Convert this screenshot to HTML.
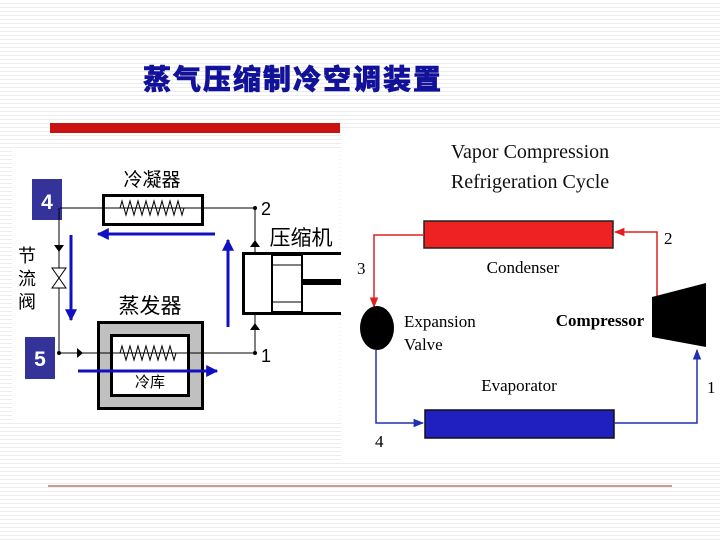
<!DOCTYPE html>
<html><head><meta charset="utf-8"><style>
html,body{margin:0;padding:0}
body{width:720px;height:540px;overflow:hidden;background:#fff repeating-linear-gradient(to bottom,#fff 0,#fff 3px,#ececec 3px,#ececec 4px);}
svg{position:absolute;left:0;top:0}
</style></head><body>
<svg width="720" height="540" viewBox="0 0 720 540">
<defs>
<marker id="bl" viewBox="0 0 10 10" refX="9" refY="5" markerWidth="4" markerHeight="4" orient="auto"><path d="M0,0L10,5L0,10z" fill="#1010c0"/></marker>
<marker id="rd" viewBox="0 0 10 10" refX="9" refY="5" markerWidth="7" markerHeight="7" orient="auto"><path d="M0,1L10,5L0,9z" fill="#e02020"/></marker>
<marker id="db" viewBox="0 0 10 10" refX="9" refY="5" markerWidth="7" markerHeight="7" orient="auto"><path d="M0,1L10,5L0,9z" fill="#2030b0"/></marker>
</defs>
<text x="293" y="89" text-anchor="middle" font-family="'Noto Sans CJK SC',sans-serif" font-weight="900" font-size="28" letter-spacing="2" fill="#111199" stroke="#111199" stroke-width="0.6">蒸气压缩制冷空调装置</text>
<rect x="50" y="123" width="290" height="10" fill="#cc1111"/>
<line x1="48" y1="486" x2="672" y2="486" stroke="#993333" stroke-width="1"/>
<!-- left image -->
<rect x="12" y="148" width="328" height="272" fill="#fff"/>
<rect x="32" y="179" width="30" height="41" fill="#333399"/>
<text x="47" y="209" text-anchor="middle" font-family="'Liberation Sans',sans-serif" font-weight="bold" font-size="21" fill="#fff">4</text>
<rect x="25" y="337" width="30" height="42" fill="#333399"/>
<text x="40" y="366" text-anchor="middle" font-family="'Liberation Sans',sans-serif" font-weight="bold" font-size="21" fill="#fff">5</text>
<g stroke="#000" fill="none" stroke-width="1">
<line x1="60" y1="208" x2="255" y2="208"/>
<line x1="59" y1="208" x2="59" y2="353"/>
<line x1="59" y1="353" x2="255" y2="353"/>
<line x1="255" y1="208" x2="255" y2="252"/>
<line x1="255" y1="314" x2="255" y2="353"/>
</g>
<rect x="103.5" y="195.5" width="99" height="29" fill="#fff" stroke="#000" stroke-width="3"/>
<line x1="105" y1="208" x2="201" y2="208" stroke="#000"/>
<path d="M120,208 l2,-7 4,14 4,-14 4,14 4,-14 4,14 4,-14 4,14 4,-14 4,14 4,-14 4,14 4,-14 4,14 4,-14 4,14 2,-7" stroke="#000" fill="none"/>
<text x="152" y="186" text-anchor="middle" font-family="'Noto Sans CJK SC',sans-serif" font-size="19">冷凝器</text>
<text x="261" y="215" font-family="'Liberation Sans',sans-serif" font-size="18">2</text>
<text x="261" y="362" font-family="'Liberation Sans',sans-serif" font-size="18">1</text>
<circle cx="255" cy="208" r="2"/><circle cx="255" cy="353" r="2"/><circle cx="59" cy="353" r="2"/>
<path d="M250,247 L260,247 L255,240z"/><path d="M250,330 L260,330 L255,323z"/>
<path d="M54,245 L64,245 L59,252z"/><path d="M77,348 L77,358 L83,353z"/>
<path d="M52,268 L66,268 L52,288 L66,288z" fill="#fff" stroke="#000"/>
<text x="27" y="262" text-anchor="middle" font-family="'Noto Sans CJK SC',sans-serif" font-size="18">节</text>
<text x="27" y="285" text-anchor="middle" font-family="'Noto Sans CJK SC',sans-serif" font-size="18">流</text>
<text x="27" y="308" text-anchor="middle" font-family="'Noto Sans CJK SC',sans-serif" font-size="18">阀</text>
<text x="301" y="245" text-anchor="middle" font-family="'Noto Sans CJK SC',sans-serif" font-size="21">压缩机</text>
<rect x="243.5" y="253.5" width="100" height="60" fill="#fff" stroke="#000" stroke-width="3"/>
<rect x="272" y="255" width="30" height="57" fill="#fff" stroke="#000" stroke-width="2"/>
<line x1="273" y1="265" x2="301" y2="265" stroke="#000"/><line x1="273" y1="302" x2="301" y2="302" stroke="#000"/>
<rect x="302" y="279" width="40" height="6" fill="#000"/>
<text x="150" y="313" text-anchor="middle" font-family="'Noto Sans CJK SC',sans-serif" font-size="21">蒸发器</text>
<rect x="98.5" y="322.5" width="104" height="86" fill="#c0c0c0" stroke="#000" stroke-width="3"/>
<rect x="111.5" y="335.5" width="77" height="60" fill="#fff" stroke="#000" stroke-width="3"/>
<line x1="82" y1="353" x2="255" y2="353" stroke="#000"/>
<path d="M120,353 l2,-7 4,14 4,-14 4,14 4,-14 4,14 4,-14 4,14 4,-14 4,14 4,-14 4,14 4,-14 4,14 2,-7" stroke="#000" fill="none"/>
<text x="150" y="387" text-anchor="middle" font-family="'Noto Sans CJK SC',sans-serif" font-size="15">冷库</text>
<g stroke="#1010c0" stroke-width="3" fill="none">
<line x1="215" y1="234" x2="98" y2="234" marker-end="url(#bl)"/>
<line x1="71" y1="235" x2="71" y2="320" marker-end="url(#bl)"/>
<line x1="228" y1="327" x2="228" y2="240" marker-end="url(#bl)"/>
<line x1="78" y1="371" x2="217" y2="371" marker-end="url(#bl)"/>
</g>
<!-- right image -->
<rect x="341" y="128" width="379" height="335" fill="#fff"/>
<text x="530" y="158" text-anchor="middle" font-family="'Liberation Serif',serif" font-size="20" fill="#111">Vapor Compression</text>
<text x="530" y="188" text-anchor="middle" font-family="'Liberation Serif',serif" font-size="20" fill="#111">Refrigeration Cycle</text>
<rect x="424" y="221" width="189" height="27" fill="#ee2222" stroke="#222" stroke-width="1.5"/>
<g stroke="#e02020" stroke-width="1.5" fill="none">
<polyline points="424,235 374,235 374,307" marker-end="url(#rd)"/>
<polyline points="657,298 657,232 615,232" marker-end="url(#rd)"/>
</g>
<text x="357" y="274" font-family="'Liberation Serif',serif" font-size="17">3</text>
<text x="664" y="244" font-family="'Liberation Serif',serif" font-size="17">2</text>
<text x="523" y="273" text-anchor="middle" font-family="'Liberation Serif',serif" font-size="17">Condenser</text>
<ellipse cx="377" cy="328" rx="17" ry="22" fill="#000"/>
<text x="404" y="327" font-family="'Liberation Serif',serif" font-size="17">Expansion</text>
<text x="404" y="350" font-family="'Liberation Serif',serif" font-size="17">Valve</text>
<path d="M652,297 L706,283 L706,347 L652,337z" fill="#000"/>
<text x="600" y="326" text-anchor="middle" font-family="'Liberation Serif',serif" font-weight="bold" font-size="17">Compressor</text>
<rect x="425" y="410" width="189" height="28" fill="#2020c0" stroke="#111" stroke-width="1.5"/>
<g stroke="#2030b0" stroke-width="1.5" fill="none">
<polyline points="376,350 376,423 423,423" marker-end="url(#db)"/>
<polyline points="614,423 697,423 697,350" marker-end="url(#db)"/>
</g>
<text x="375" y="447" font-family="'Liberation Serif',serif" font-size="17">4</text>
<text x="707" y="393" font-family="'Liberation Serif',serif" font-size="17">1</text>
<text x="519" y="391" text-anchor="middle" font-family="'Liberation Serif',serif" font-size="17">Evaporator</text>
</svg>
</body></html>
